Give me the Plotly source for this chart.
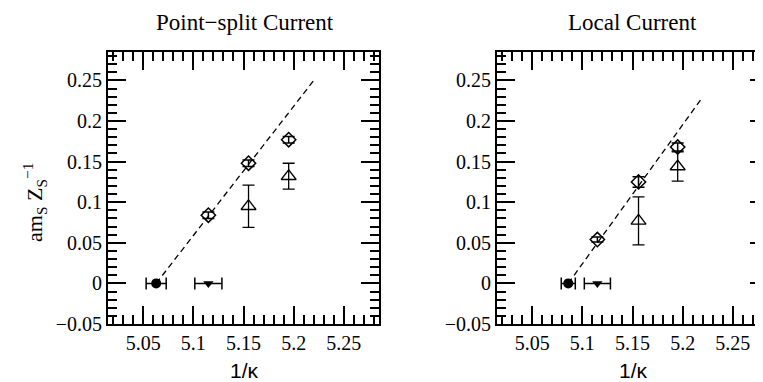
import plotly.graph_objects as go

# ---- data ----
# Point-split current (left panel)
ps_circle_x = [5.063]
ps_circle_y = [0.0]
ps_circle_xerr = [0.010]

ps_down_x = [5.115]
ps_down_y = [0.0]
ps_down_xerr = [0.0135]

ps_diam_x = [5.115, 5.155, 5.195]
ps_diam_y = [0.084, 0.148, 0.177]
ps_diam_err = [0.004, 0.004, 0.004]

ps_tri_x = [5.155, 5.195]
ps_tri_y = [0.095, 0.132]
ps_tri_err = [0.026, 0.016]

ps_fit_x = [5.063, 5.22]
ps_fit_y = [0.0, 0.25]

# Local current (right panel)
lc_circle_x = [5.086]
lc_circle_y = [0.0]
lc_circle_xerr = [0.007]

lc_down_x = [5.115]
lc_down_y = [0.0]
lc_down_xerr = [0.013]

lc_diam_x = [5.115, 5.156, 5.195]
lc_diam_y = [0.054, 0.125, 0.168]
lc_diam_err = [0.003, 0.0065, 0.005]

lc_tri_x = [5.156, 5.195]
lc_tri_y = [0.077, 0.144]
lc_tri_err = [0.0295, 0.018]

lc_fit_x = [5.086, 5.219]
lc_fit_y = [0.0, 0.228]

x_ticks = [5.05, 5.1, 5.15, 5.2, 5.25]
x_ticktext = ["5.05", "5.1", "5.15", "5.2", "5.25"]
y_ticks = [-0.05, 0, 0.05, 0.1, 0.15, 0.2, 0.25]
y_ticktext = ["\u22120.05", "0", "0.05", "0.1", "0.15", "0.2", "0.25"]

W, H = 763, 382
SERIF = "Liberation Serif"
SANS = "Liberation Sans"

fig = go.Figure()


def add_panel(fig, xa, ya, cx, cy, cxe, dx, dy, dxe, mx, my, me, tx, ty, te, fx, fy):
    ax = dict(xaxis=xa, yaxis=ya, showlegend=False)
    fig.add_trace(go.Scatter(x=fx, y=fy, mode="lines",
                             line=dict(color="black", width=1.3, dash="6px,4px"), **ax))
    fig.add_trace(go.Scatter(x=cx, y=cy, mode="markers",
                             marker=dict(symbol="circle", size=10, color="black"),
                             error_x=dict(type="data", array=cxe, color="black",
                                          thickness=1.5, width=6), **ax))
    fig.add_trace(go.Scatter(x=dx, y=dy, mode="markers",
                             marker=dict(symbol="triangle-down", size=9, color="black"),
                             error_x=dict(type="data", array=dxe, color="black",
                                          thickness=1.5, width=6), **ax))
    fig.add_trace(go.Scatter(x=mx, y=my, mode="markers",
                             marker=dict(symbol="diamond-open", size=11, color="black",
                                         line=dict(width=1.5)),
                             error_y=dict(type="data", array=me, color="black",
                                          thickness=1.5, width=6), **ax))
    fig.add_trace(go.Scatter(x=tx, y=ty, mode="markers",
                             marker=dict(symbol="triangle-up-open", size=13, color="black",
                                         line=dict(width=1.3)),
                             error_y=dict(type="data", array=te, color="black",
                                          thickness=1.3, width=6), **ax))


add_panel(fig, "x", "y", ps_circle_x, ps_circle_y, ps_circle_xerr,
          ps_down_x, ps_down_y, ps_down_xerr,
          ps_diam_x, ps_diam_y, ps_diam_err,
          ps_tri_x, ps_tri_y, ps_tri_err, ps_fit_x, ps_fit_y)
add_panel(fig, "x2", "y2", lc_circle_x, lc_circle_y, lc_circle_xerr,
          lc_down_x, lc_down_y, lc_down_xerr,
          lc_diam_x, lc_diam_y, lc_diam_err,
          lc_tri_x, lc_tri_y, lc_tri_err, lc_fit_x, lc_fit_y)

tickfont = dict(family=SERIF, size=20, color="black")
xcommon = dict(range=[5.015, 5.285], tickmode="array", tickvals=x_ticks, ticktext=x_ticktext,
               ticks="inside", ticklen=18, tickwidth=1.5, tickcolor="black",
               minor=dict(ticks="inside", ticklen=9, tickwidth=1.5, dtick=0.01,
                          tick0=5.0, tickcolor="black"),
               showline=True, linecolor="black", linewidth=2, mirror="ticks",
               showgrid=False, zeroline=False, automargin=False, tickfont=tickfont)
ycommon = dict(range=[-0.05, 0.285], tickmode="array", tickvals=y_ticks, ticktext=y_ticktext,
               ticks="inside", ticklen=18, tickwidth=1.5, tickcolor="black",
               minor=dict(ticks="inside", ticklen=9, tickwidth=1.5, dtick=0.01,
                          tick0=0, tickcolor="black"),
               showline=True, linecolor="black", linewidth=2, mirror="ticks",
               showgrid=False, zeroline=False, automargin=False, tickfont=tickfont)

ydom = [1 - 316 / H, 1 - 44 / H]
fig.update_layout(
    width=W, height=H,
    margin=dict(l=0, r=0, t=0, b=0),
    font=dict(family=SERIF, size=20, color="black"),
    paper_bgcolor="white", plot_bgcolor="white",
    xaxis=dict(domain=[100 / W, 371 / W], anchor="y", **xcommon),
    yaxis=dict(domain=ydom, anchor="x", **ycommon),
    xaxis2=dict(domain=[489 / W, 760 / W], anchor="y2", **xcommon),
    yaxis2=dict(domain=ydom, anchor="x2", **ycommon),
)

annots = [
    dict(text="Point\u2212split Current", x=237 / W, y=1 - 15 / H,
         font=dict(family=SERIF, size=23, color="black")),
    dict(text="Local Current", x=624 / W, y=1 - 15 / H,
         font=dict(family=SERIF, size=23, color="black")),
    dict(text="1/\u03ba", x=236 / W, y=1 - 362 / H,
         font=dict(family=SANS, size=21, color="black")),
    dict(text="1/\u03ba", x=625 / W, y=1 - 362 / H,
         font=dict(family=SANS, size=21, color="black")),
    dict(text="am<sub>S</sub> Z<sub>S</sub><sup>\u22121</sup>", x=26 / W, y=1 - 195 / H,
         textangle=-90, font=dict(family=SERIF, size=22, color="black")),
]
for a in annots:
    fig.add_annotation(xref="paper", yref="paper", showarrow=False,
                       xanchor="center", yanchor="middle", **a)

fig.write_html("out.html")
